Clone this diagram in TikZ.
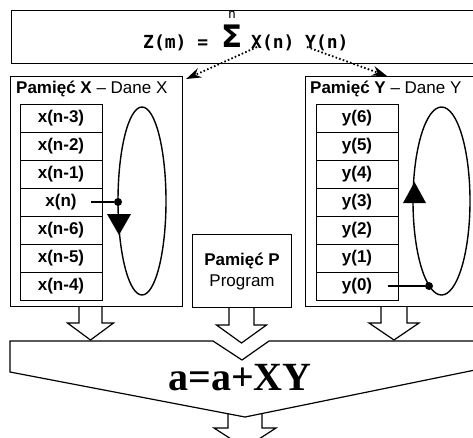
\documentclass[tikz,border=0pt]{standalone}
\usepackage{fontspec}
\setmainfont{Liberation Sans}
\newfontfamily\formulafont{DejaVu Sans Mono}
\newfontfamily\sigmafont{DejaVu Sans}
\newfontfamily\resultfont{Liberation Serif}
\usetikzlibrary{arrows.meta}

% hollow block arrow: centre x, top y, head y, tip y, half shaft, half head
\newcommand{\hollowdown}[6]{%
  \draw[blockarrow] (#1-#5,#2) -- (#1-#5,#3) -- (#1-#6,#3) -- (#1,#4)
    -- (#1+#6,#3) -- (#1+#5,#3) -- (#1+#5,#2);}

\begin{document}
\begin{tikzpicture}[x=1pt, y=-1pt,
    frame/.style={draw, line width=1.1pt, inner sep=0pt, anchor=north west},
    cell/.style={draw, line width=1pt, minimum width=82pt, minimum height=28pt, inner sep=0pt,
      font=\bfseries\fontsize{17}{17}\selectfont},
    title/.style={inner sep=0pt, anchor=base west, font=\fontsize{17}{17}\selectfont},
    formula/.style={inner sep=0pt, font=\formulafont\bfseries\fontsize{18}{18}\selectfont},
    loopline/.style={line width=1.4pt},
    dot/.style={circle, fill, inner sep=0pt, minimum size=8pt},
    dotarrow/.style={line width=1.8pt, dash pattern=on 1.6pt off 2.2pt, -{Stealth[length=15pt,width=10pt]}},
    blockarrow/.style={line width=1.2pt, line join=miter},
  ]
  \useasboundingbox (0,0) rectangle (473,437);
  \clip (0,0) rectangle (473,437);

  % formula
  \node[frame, minimum width=469pt, minimum height=53pt] (formulabox) at (11,10) {};
  \node[formula, anchor=base west] (zm) at (143,48) {Z(m) =};
  \node[inner sep=0pt, anchor=base, font=\sigmafont\bfseries\fontsize{31}{31}\selectfont] (sigma) at (232,47) {Σ};
  \node[inner sep=0pt, anchor=base, font=\formulafont\fontsize{13}{13}\selectfont] (idx) at (232,18) {n};
  \node[formula, anchor=base west] (xn) at (251,48) {X(n)};
  \node[formula, anchor=base west] (yn) at (305,48) {Y(n)};

  % Pamiec X
  \node[frame, minimum width=172pt, minimum height=230pt] (xbox) at (10,76) {};
  \node[title] (xtitle) at (16,93) {\textbf{Pamięć X} – Dane X};
  \foreach \lab [count=\i] in {x(n-3),x(n-2),x(n-1),x(n),x(n-6),x(n-5),x(n-4)}
    \node[cell] (cx\i) at (61,90+28*\i) {\lab};
  \draw[loopline] (142,201) ellipse [x radius=24pt, y radius=94pt];
  \node[dot] (xdot) at (118,202) {};
  \draw[line width=1.2pt] ([xshift=-12pt]cx4.east) -- (xdot);
  \fill (107,214) -- (131,214) -- (119,235) -- cycle;

  % Pamiec Y
  \node[frame, minimum width=180pt, minimum height=230pt] (ybox) at (305,76) {};
  \node[title] (ytitle) at (310,93) {\textbf{Pamięć Y} – Dane Y};
  \foreach \lab [count=\i] in {y(6),y(5),y(4),y(3),y(2),y(1),y(0)}
    \node[cell] (cy\i) at (357,90+28*\i) {\lab};
  \draw[loopline] (441.5,201) ellipse [x radius=28.5pt, y radius=94pt];
  \node[dot] (ydot) at (429,286) {};
  \draw[line width=1.2pt] ([xshift=-11pt]cy7.east) -- (ydot);
  \fill (403,203) -- (426,203) -- (414.5,182) -- cycle;

  % Pamiec P
  \node[frame, minimum width=99pt, minimum height=73pt, align=center,
    font=\fontsize{17}{21}\selectfont] (pbox) at (192,234) {\textbf{Pamięć P}\\Program};

  % data flow
  \draw[dotarrow] ([xshift=6pt,yshift=1pt]xn.base west) -- ([xshift=3pt,yshift=-3pt]xbox.north east);
  \draw[dotarrow] ([xshift=2pt,yshift=1pt]yn.base west) -- ([xshift=82pt]ybox.north west);

  \hollowdown{90.5}{306}{323}{340}{11.5}{23}
  \hollowdown{241.5}{307}{325}{343}{12.5}{25}
  \hollowdown{394}{306}{323}{340}{13}{25}

  % a=a+XY
  \draw[blockarrow] (10,341) -- (213,341) -- (242,360) -- (269,341) -- (480,341)
    -- (480,369) -- (245,417) -- (10,372) -- cycle;
  \node[inner sep=0pt, anchor=base, font=\resultfont\bfseries\fontsize{40}{40}\selectfont] (result) at (240,390) {a=a+XY};
  \hollowdown{245}{414}{428}{448}{17}{31}
\end{tikzpicture}
\end{document}
